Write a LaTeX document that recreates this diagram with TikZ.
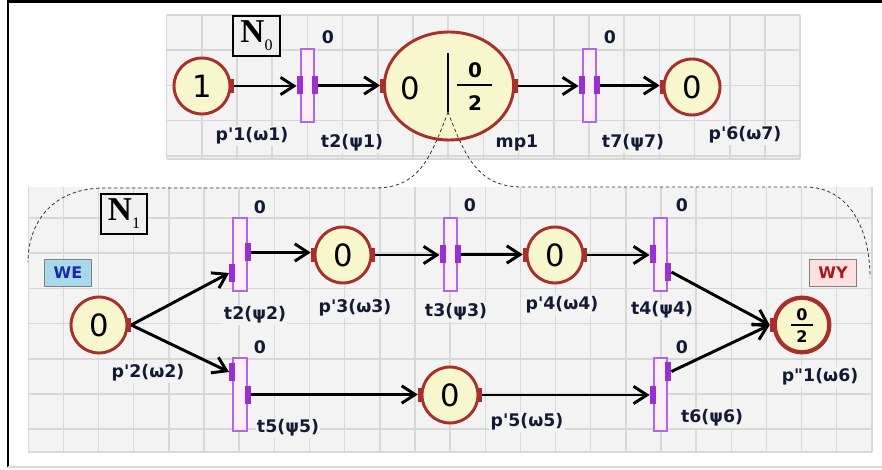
\documentclass[tikz,border=0pt]{standalone}
\usepackage{fontspec}
\setmainfont{DejaVu Sans}
\newfontfamily\netfont{Liberation Serif}
\usepackage{xcolor}
\usepackage{tikz}
\usetikzlibrary{positioning, arrows.meta, shapes.geometric, calc}

\definecolor{placered}{HTML}{A8302C}
\definecolor{placefill}{HTML}{F8F6CC}
\definecolor{transline}{HTML}{B466E8}
\definecolor{transfill}{HTML}{FDEFF8}
\definecolor{transport}{HTML}{9A30D0}
\definecolor{gridbg}{HTML}{F3F3F3}
\definecolor{gridline}{HTML}{D8D8D8}
\definecolor{labelcol}{HTML}{151A34}
\definecolor{wefill}{HTML}{A8D8EA}
\definecolor{wetext}{HTML}{1A2AA8}
\definecolor{wyfill}{HTML}{FDE0E0}
\definecolor{wytext}{HTML}{A81818}

\newcommand{\pq}{\textquotesingle}

\tikzset{
    place/.style={circle, draw=placered, line width=2.2pt, fill=placefill, minimum size=42pt, inner sep=0pt, font=\fontsize{23}{23}\selectfont},
    trans/.style={rectangle, draw=transline, line width=1.5pt, fill=transfill, minimum width=10pt, minimum height=55pt, inner sep=0pt},
    tport/.style={rectangle, fill=transport, minimum width=4.5pt, minimum height=13.5pt, inner sep=0pt},
    pport/.style={rectangle, fill=placered, minimum width=3.8pt, minimum height=10.5pt, inner sep=0pt},
    lbl/.style={font=\bfseries\fontsize{13}{13}\selectfont, text=labelcol, fill=gridbg, inner sep=1pt},
    wt/.style={font=\bfseries\fontsize{13}{13}\selectfont, text=labelcol, inner sep=0pt},
    netbox/.style={draw=black, line width=1.5pt, fill=black!6, minimum width=35pt, minimum height=30pt, inner sep=0pt, font=\netfont\bfseries\fontsize{25}{25}\selectfont},
    tagbox/.style={draw=black!50, line width=1.1pt, minimum width=35pt, minimum height=20pt, inner sep=0pt, font=\bfseries\fontsize{12}{12}\selectfont},
    flow/.style={line width=2.2pt, -{Straight Barb[length=10pt, width=13pt]}},
    zoomline/.style={black!80, line width=0.6pt, dash pattern=on 2.5pt off 2pt},
    gridln/.style={gridline, line width=1.1pt}
}

\begin{document}
\begin{tikzpicture}[x=0.75pt, y=-0.75pt]
        \useasboundingbox (0,0) rectangle (882,470);
        \draw[line width=1.6pt] (8,467) -- (8,1.5) -- (882,1.5);
        \draw[black!15, line width=1pt] (8,467) -- (882,467);

        % grids
        \fill[gridbg] (166.6,15) rectangle (800,159);
        \foreach \k in {0,...,18} \draw[gridln] ({166.6+35.2*\k},15) -- ++(0,144);
        \foreach \k in {0,...,4} \draw[gridln] (166.6,{15+35.2*\k}) -- (800,{15+35.2*\k});
        \draw[gridln] (166.6,159) -- (800,159);
        \fill[gridbg] (28.3,187) rectangle (872,452);
        \foreach \k in {0,...,24} \draw[gridln] ({28.3+35.15*\k},187) -- ++(0,265);
        \foreach \k in {1,...,7} \draw[gridln] (28.3,{182.8+35.2*\k}) -- (872,{182.8+35.2*\k});
        \draw[gridln] (28.3,452) -- (872,452);

        % N0
        \node[netbox] (N0) at (256.5,36) {N\raisebox{-6pt}{\fontsize{12}{12}\mdseries 0}};
        \node[place] (p1) at (202,86) {1};
        \node[pport] (p1o) at (p1.east) {};
        \node[trans] (t2a) at (307.5,85.5) {};
        \node[tport] (t2ai) at (t2a.west) {};
        \node[tport] (t2ao) at (t2a.east) {};
        \node[ellipse, draw=placered, line width=2.2pt, fill=placefill, minimum width=97pt, minimum height=81pt] (mp1) at (449,86) {};
        \node[pport] (mp1i) at (mp1.west) {};
        \node[pport] (mp1o) at (mp1.east) {};
        \node[font=\fontsize{23}{23}\selectfont, inner sep=0pt] (mp1tok) at ($(mp1)+(-39,2)$) {0};
        \draw[line width=1.7pt] ($(mp1)+(-1,-33)$) coordinate (mptop) -- ($(mp1)+(-1,26)$) coordinate (mpfoot);
        \node[font=\bfseries\fontsize{15}{15}\selectfont, inner sep=0pt] (mp1num) at ($(mp1)+(26,-16)$) {0};
        \node[font=\bfseries\fontsize{15}{15}\selectfont, inner sep=0pt] (mp1den) at ($(mp1)+(26,17)$) {2};
        \draw[line width=1.8pt] ($(mp1)+(8,-1)$) -- ($(mp1)+(43,-1)$);
        \node[trans] (t7) at (589.5,85.5) {};
        \node[tport] (t7i) at (t7.west) {};
        \node[tport] (t7o) at (t7.east) {};
        \node[place] (p6) at (692,87) {0};
        \node[pport] (p6i) at (p6.west) {};

        \node[wt] (t2aw) at (328,37) {0};
        \node[wt] (t7w) at (610,37) {0};
        \node[lbl] (p1l) at (252,136) {p\pq1(ω1)};
        \node[lbl] (t2al) at (352,143) {t2(ψ1)};
        \node[lbl] (mp1l) at (517,143) {mp1};
        \node[lbl] (t7l) at (633,143) {t7(ψ7)};
        \node[lbl] (p6l) at (745,135) {p\pq6(ω7)};

        \draw[flow] (p1o.east) -- (p1o.east -| t2ai.west);
        \draw[flow] (t2ao.east) -- (t2ao.east -| mp1i.west);
        \draw[flow] (mp1o.east) -- (mp1o.east -| t7i.west);
        \draw[flow] (t7o.east) -- (t7o.east -| p6i.west);

        % N1
        \node[netbox] (N1) at (124,214) {N\raisebox{-6pt}{\fontsize{12}{12}\mdseries 1}};
        \node[tagbox, fill=wefill, text=wetext] (we) at (68,273) {WE};
        \node[tagbox, fill=wyfill, text=wytext] (wy) at (833,273) {WY};
        \node[place] (p2) at (99,325) {0};
        \node[pport] (p2o) at (p2.east) {};
        \node[trans] (t2b) at (240,254.5) {};
        \node[tport] (t2bi) at ($(t2b.west)+(0,18.5)$) {};
        \node[tport] (t2bo) at ($(t2b.east)+(0,-2)$) {};
        \node[place] (p3) at (343,255) {0};
        \node[pport] (p3i) at (p3.west) {};
        \node[pport] (p3o) at (p3.east) {};
        \node[trans] (t3) at (450.5,254.5) {};
        \node[tport] (t3i) at (t3.west) {};
        \node[tport] (t3o) at (t3.east) {};
        \node[place] (p4) at (555,255) {0};
        \node[pport] (p4i) at (p4.west) {};
        \node[pport] (p4o) at (p4.east) {};
        \node[trans] (t4) at (660.5,254.5) {};
        \node[tport] (t4i) at (t4.west) {};
        \node[tport] (t4o) at ($(t4.east)+(0,17.5)$) {};
        \node[trans] (t5) at (240,394.5) {};
        \node[tport] (t5i) at ($(t5.west)+(0,-22.5)$) {};
        \node[tport] (t5o) at (t5.east) {};
        \node[place] (p5) at (450,395) {0};
        \node[pport] (p5i) at (p5.west) {};
        \node[pport] (p5o) at (p5.east) {};
        \node[trans] (t6) at (660.5,394.5) {};
        \node[tport] (t6i) at (t6.west) {};
        \node[tport] (t6o) at ($(t6.east)+(0,-23)$) {};
        \node[place, line width=3.2pt, minimum size=41pt] (pp1) at (802,325) {};
        \node[pport] (pp1i) at (pp1.west) {};
        \node[font=\bfseries\fontsize{12}{12}\selectfont, inner sep=0pt] (pp1num) at ($(pp1)+(0,-10)$) {0};
        \node[font=\bfseries\fontsize{12}{12}\selectfont, inner sep=0pt] (pp1den) at ($(pp1)+(0,12)$) {2};
        \draw[line width=1.2pt] ($(pp1)+(-11,0)$) -- ($(pp1)+(11,0)$);

        \node[wt] (t2bw) at (260,207) {0};
        \node[wt] (t3w) at (470,205) {0};
        \node[wt] (t4w) at (682,205) {0};
        \node[wt] (t5w) at (260,347) {0};
        \node[wt] (t6w) at (682,347) {0};
        \node[lbl] (p2l) at (148,373) {p\pq2(ω2)};
        \node[lbl] (t2bl) at (255,315) {t2(ψ2)};
        \node[lbl] (p3l) at (355,308) {p\pq3(ω3)};
        \node[lbl] (t3l) at (456,312) {t3(ψ3)};
        \node[lbl] (p4l) at (562,305) {p\pq4(ω4)};
        \node[lbl] (t4l) at (662,310) {t4(ψ4)};
        \node[lbl] (t5l) at (288,428) {t5(ψ5)};
        \node[lbl] (p5l) at (527,422) {p\pq5(ω5)};
        \node[lbl] (t6l) at (712,418) {t6(ψ6)};
        \node[lbl] (pp1l) at (820,377) {p\textquotedbl1(ω6)};

        \draw[flow] (p2o.east) -- (t2bi.west);
        \draw[flow] (p2o.east) -- (t5i.west);
        \draw[flow] (t2bo.east) -- (t2bo.east -| p3i.west);
        \draw[flow] (p3o.east) -- (p3o.east -| t3i.west);
        \draw[flow] (t3o.east) -- (t3o.east -| p4i.west);
        \draw[flow] (p4o.east) -- (p4o.east -| t4i.west);
        \draw[flow] (t4o.east) -- (pp1i.west);
        \draw[flow] (t5o.east) -- (t5o.east -| p5i.west);
        \draw[flow] (p5o.east) -- (p5o.east -| t6i.west);
        \draw[flow] (t6o.east) -- (pp1i.west);

        % zoom outline
        \draw[zoomline] (mpfoot) .. controls (430,160) and (418,188) .. (375,188) -- (105,188) .. controls (50,188) and (28,225) .. (28,262);
        \draw[zoomline] (mpfoot) .. controls (466,160) and (480,187) .. (522,187) -- (805,187) .. controls (850,187) and (870,230) .. (870,278);
    \end{tikzpicture}
\end{document}
